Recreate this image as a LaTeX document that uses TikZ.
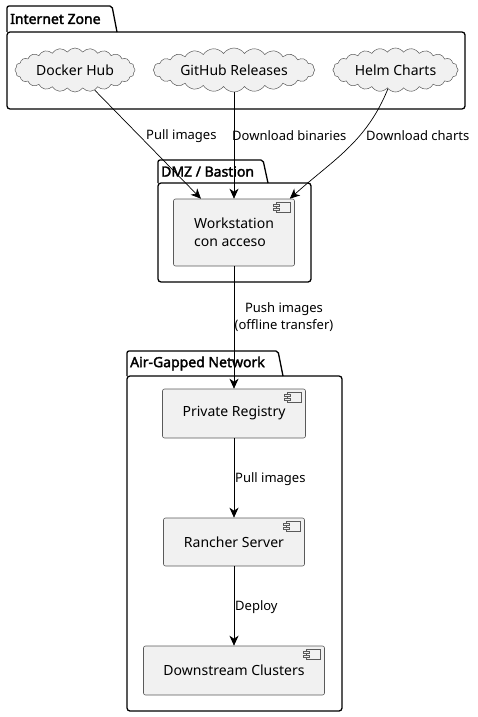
\documentclass[tikz,border=0pt]{standalone}
\usepackage{fontspec}
\setmainfont{Noto Sans}[AutoFakeBold=2.2]
\usetikzlibrary{arrows.meta, positioning, shapes.symbols, calc}
\definecolor{NodeFill}{HTML}{F1F1F1}
\definecolor{NodeLine}{HTML}{5A5A5A}

% package frame: x0, y0 (tab top), x tab end, y body top, x1, y1 (body bottom), title
\newcommand{\drawpkg}[7]{%
  \draw[pkgline, rounded corners=2pt] (#1,#4) -- (#1,#2) -- (#3,#2) -- ({#3+5},#4);
  \draw[pkgline, rounded corners=3pt] (#1,#4) rectangle (#5,#6);
  \node[pkgtitle] at ({#1+3},{(#2+#4)/2}) {#7};
}
% small component icon at the top right corner of a node
\newcommand{\compicon}[1]{%
  \draw[iconline] ($(#1.north east)+(-19,4)$) rectangle ++(14,10);
  \draw[iconline] ($(#1.north east)+(-22,6)$) rectangle ++(6,2);
  \draw[iconline] ($(#1.north east)+(-22,10)$) rectangle ++(6,2);
}

\tikzset{
  pkgline/.style={line width=1.3pt, black},
  pkgtitle/.style={font=\bfseries\fontsize{14}{16}\selectfont, anchor=west, inner sep=0pt},
  cloudnode/.style={cloud, cloud puffs=24, cloud puff arc=110, cloud ignores aspect,
    draw=NodeLine, fill=NodeFill, line width=0.5pt,
    minimum width=112pt, minimum height=44pt, font=\fontsize{14}{18}\selectfont},
  compnode/.style={rectangle, rounded corners=2pt, draw=NodeLine, fill=NodeFill,
    line width=0.6pt, font=\fontsize{14}{18}\selectfont, align=left},
  iconline/.style={draw=NodeLine, fill=NodeFill, line width=0.5pt},
  arr/.style={-{Stealth[length=10pt, width=9pt, inset=3pt]}, line width=0.7pt},
  lbl/.style={font=\fontsize{13}{17}\selectfont, inner sep=0pt, align=center}
}

\begin{document}
\begin{tikzpicture}[x=1pt, y=-1pt]
    \useasboundingbox (0,0) rectangle (477,717);

    % === PACKAGES ===
    \drawpkg{7}{6}{112}{32}{465}{109}{Internet Zone}
    \drawpkg{158}{160}{263}{183}{311}{282}{DMZ / Bastion}
    \drawpkg{127}{351}{278}{376}{342}{711}{Air-Gapped Network}

    % === INTERNET SOURCES ===
    \node[cloudnode] (DockerHub) at (75,70) {Docker Hub};
    \node[cloudnode, minimum width=140pt] (GitHub) at (234,70) {GitHub Releases};
    \node[cloudnode, minimum width=113pt] (Helm) at (395.5,70) {Helm Charts};

    % === COMPONENTS ===
    \node[compnode, minimum width=121pt, minimum height=67pt] (Workstation) at (234,232.5) {Workstation\\con acceso};
    \node[compnode, minimum width=143pt, minimum height=49pt] (Registry) at (234,413.5) {Private Registry};
    \node[compnode, minimum width=141pt, minimum height=48pt] (Rancher) at (234,542) {Rancher Server};
    \node[compnode, minimum width=181pt, minimum height=49pt] (Downstream) at (234,670.5) {Downstream Clusters};

    \compicon{Workstation}
    \compicon{Registry}
    \compicon{Rancher}
    \compicon{Downstream}

    % === CONNECTIONS ===
    \draw[arr] (DockerHub) -- (Workstation);
    \draw[arr] (GitHub) -- (Workstation);
    \draw[arr] (Helm) to[out=-112, in=42] ($(Workstation.north east)+(-5,0)$);
    \draw[arr] (Workstation) -- (Registry);
    \draw[arr] (Registry) -- (Rancher);
    \draw[arr] (Rancher) -- (Downstream);

    % labels
    \node[lbl, anchor=west] (LblPull) at (146,136) {Pull images};
    \node[lbl, anchor=west] (LblBin) at (232,136) {Download binaries};
    \node[lbl, anchor=west] (LblCharts) at (366,136) {Download charts};
    \node[lbl] (LblPush) at (284,317.5) {Push images\\(offline transfer)};
    \node[lbl, anchor=west] (LblPullReg) at (235,479) {Pull images};
    \node[lbl, anchor=west] (LblDeploy) at (235,607) {Deploy};
\end{tikzpicture}
\end{document}
